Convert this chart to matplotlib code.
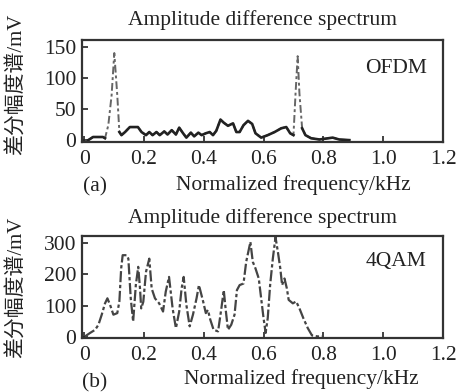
import numpy as np
import matplotlib
matplotlib.use('Agg')
import matplotlib.pyplot as plt

# fuentes: serif para el texto latino, CJK para el chino
plt.rcParams['font.family'] = ['Liberation Serif', 'Noto Sans CJK SC']

# (a) OFDM - espectro de diferencia de amplitud
f_ofdm = [0.014, 0.03, 0.045, 0.063, 0.07, 0.081, 0.092, 0.101, 0.111, 0.118,
          0.125, 0.137, 0.153, 0.18, 0.192, 0.207, 0.218, 0.229, 0.242, 0.253,
          0.268, 0.279, 0.293, 0.307, 0.318, 0.331, 0.342, 0.357, 0.368, 0.382,
          0.393, 0.407, 0.42, 0.431, 0.442, 0.456, 0.467, 0.481, 0.498, 0.509,
          0.52, 0.533, 0.548, 0.562, 0.573, 0.592, 0.614, 0.637, 0.659, 0.676,
          0.689, 0.7, 0.707, 0.714, 0.72, 0.729, 0.74, 0.759, 0.787, 0.831,
          0.853, 0.887]
a_ofdm = [0, 5, 5, 5, 3, 24, 72, 140, 72, 13,
          8, 13, 21, 21, 13, 8, 13, 8, 13, 8,
          14, 9, 16, 9, 20, 11, 4, 12, 6, 12,
          8, 11, 13, 8, 15, 33, 28, 23, 27, 13,
          13, 24, 31, 26, 11, 4, 8, 13, 19, 21,
          11, 8, 75, 135, 75, 19, 8, 3, 1, 4,
          1, 0]

# (b) 4QAM
f_qam = [0.003, 0.02, 0.037, 0.048, 0.059, 0.07, 0.078, 0.087, 0.098, 0.111,
         0.118, 0.124, 0.129, 0.142, 0.148, 0.156, 0.164, 0.173, 0.181, 0.187,
         0.191, 0.198, 0.207, 0.218, 0.226, 0.237, 0.251, 0.264, 0.273, 0.284,
         0.296, 0.307, 0.318, 0.326, 0.333, 0.342, 0.353, 0.364, 0.376, 0.384,
         0.398, 0.407, 0.414, 0.422, 0.433, 0.448, 0.459, 0.467, 0.473, 0.481,
         0.492, 0.503, 0.511, 0.52, 0.533, 0.542, 0.556, 0.564, 0.573, 0.584,
         0.592, 0.6, 0.607, 0.614, 0.622, 0.631, 0.64, 0.648, 0.656, 0.662,
         0.67, 0.678, 0.684, 0.698, 0.709, 0.72, 0.733, 0.748, 0.762, 0.781,
         0.798]
a_qam = [3, 14, 24, 40, 72, 108, 124, 103, 72, 77,
         114, 219, 261, 261, 250, 124, 50, 166, 224, 155,
         92, 113, 208, 250, 155, 124, 108, 82, 145, 192,
         92, 29, 82, 155, 192, 103, 35, 72, 124, 166,
         114, 77, 87, 56, 24, 19, 92, 150, 92, 24,
         40, 72, 150, 166, 171, 240, 303, 240, 219, 187,
         124, 61, 14, 61, 166, 250, 318, 271, 219, 166,
         187, 155, 119, 108, 114, 92, 61, 29, 6, 3,
         3]

xticks = [0, 0.2, 0.4, 0.6, 0.8, 1.0, 1.2]
xticklabels = ['0', '0.2', '0.4', '0.6', '0.8', '1.0', '1.2']

fig = plt.figure(figsize=(4.57, 3.92), dpi=100)
ax1 = fig.add_axes([0.1794, 0.6378, 0.79, 0.2602])
ax2 = fig.add_axes([0.1794, 0.1378, 0.79, 0.2602])

# panel (a): picos en trazo discontinuo gris, resto en negro
f1 = np.array(f_ofdm)
a1 = np.array(a_ofdm, dtype=float)
pico = ((f1 > 0.072) & (f1 < 0.116)) | ((f1 > 0.702) & (f1 < 0.727))
ax1.plot(f1, a1, color='#666666', lw=1.4, ls=(0, (4, 1.5, 1.5, 1.5)))
ax1.plot(f1, np.where(pico, np.nan, a1), color='#222222', lw=1.9)
ax1.set_ylim(-3, 161)
ax1.set_yticks([0, 50, 100, 150])
ax1.text(0.955, 0.72, 'OFDM', transform=ax1.transAxes, ha='right',
         va='center', fontsize=15.5, color='#222222')

# panel (b)
ax2.plot(f_qam, a_qam, color='#444444', lw=1.6, ls=(0, (5, 1.2, 1.5, 1.2)))
ax2.set_ylim(-2, 322)
ax2.set_yticks([0, 100, 200, 300])
ax2.text(0.955, 0.75, '4QAM', transform=ax2.transAxes, ha='right',
         va='center', fontsize=15.5, color='#222222')

for ax, pad in [(ax1, 11), (ax2, 9)]:
    ax.set_xlim(-0.007, 1.197)
    ax.set_xticks(xticks)
    ax.set_xticklabels(xticklabels)
    ax.tick_params(direction='in', length=4, width=1.2, labelsize=15.5,
                   colors='#222222')
    ax.tick_params(axis='x', pad=6)
    ax.tick_params(axis='y', pad=4)
    for s in ax.spines.values():
        s.set_linewidth(1.6)
        s.set_color('#333333')
    ax.set_title('Amplitude difference spectrum', fontsize=15.5, pad=pad,
                 color='#222222')

# etiquetas colocadas a mano como en la figura original
fig.text(16.5 / 457, 1 - 84 / 392, '差分幅度谱/mV', rotation=90, ha='center',
         va='center', fontsize=15, color='#222222')
fig.text(17 / 457, 1 - 287 / 392, '差分幅度谱/mV', rotation=90, ha='center',
         va='center', fontsize=15, color='#222222')
fig.text(293 / 457, 1 - 185 / 392, 'Normalized frequency/kHz', ha='center',
         va='center', fontsize=15.5, color='#222222')
fig.text(95 / 457, 1 - 187 / 392, '(a)', ha='center', va='center',
         fontsize=15.5, color='#222222')
fig.text(301 / 457, 1 - 379 / 392, 'Normalized frequency/kHz', ha='center',
         va='center', fontsize=15.5, color='#222222')
fig.text(95 / 457, 1 - 383 / 392, '(b)', ha='center', va='center',
         fontsize=15.5, color='#222222')

plt.savefig('out.png', dpi=100)
